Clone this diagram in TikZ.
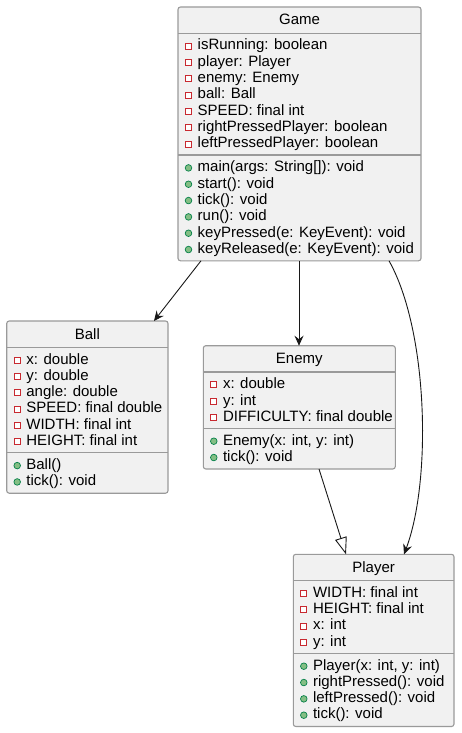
\documentclass[tikz,border=0pt]{standalone}
\usepackage{fontspec}
\setmainfont{Liberation Sans}
\usetikzlibrary{arrows.meta,fit}
\definecolor{boxfill}{HTML}{F1F1F1}
\definecolor{boxline}{HTML}{9A9A9A}
\definecolor{privred}{HTML}{C82930}
\definecolor{pubfill}{HTML}{84BE84}
\definecolor{publine}{HTML}{038048}
\definecolor{edge}{HTML}{181818}
\tikzset{
  cls/.style={draw=boxline, fill=boxfill, line width=1.1pt, rounded corners=2.5pt, inner sep=0pt, outer sep=0pt},
  sepline/.style={draw=boxline, line width=1.1pt},
  member/.style={anchor=base west, inner sep=0pt, font=\fontsize{15}{17}\selectfont},
  ctitle/.style={anchor=base, inner sep=0pt, font=\fontsize{15}{17}\selectfont},
  aicon/.style={draw=privred, fill=white, line width=1pt, minimum size=6pt, inner sep=0pt, rectangle},
  micon/.style={draw=publine, fill=pubfill, line width=0.7pt, minimum size=6.6pt, inner sep=0pt, circle},
  assoc/.style={draw=edge, line width=0.9pt, -{Stealth[length=10pt,width=9pt,inset=3.5pt]}},
  inherit/.style={draw=edge, line width=0.9pt, -{Triangle[open,length=17pt,width=12pt,fill=white]}}
}
\newcommand{\members}[5]{%
  \foreach \t [count=\i from 0] in {#5} {
    \pgfmathsetmacro\yb{#3+16.33*\i}
    \node[#4icon] (#1\i-icon) at ({#2+10.5},{\yb-3.8}) {};
    \node[member] (#1\i) at ({#2+19.5},\yb) {\t};
  }}
\newcommand{\umlclass}[8]{% name, left, top, right, bottom, title, sep1, sep2
  \node[cls, fit={(#2,#3) (#4,#5)}] (#1) {};
  \draw[sepline] (#2,#7) -- (#4,#7);
  \draw[sepline] (#2,#8) -- (#4,#8);
  \node[ctitle] (#1-title) at ({(#2+#4)/2},{#3+18}) {#6};
}
\begin{document}
\begin{tikzpicture}[x=1pt,y=-1pt]
\useasboundingbox (0,0) rectangle (461,733);

% Game
\umlclass{game}{178}{7}{421}{260.8}{Game}{33.3}{155}
\members{game-a}{178}{50}{a}{isRunning: boolean, player: Player, enemy: Enemy, ball: Ball, SPEED: final int, rightPressedPlayer: boolean, leftPressedPlayer: boolean}
\members{game-m}{178}{171.7}{m}{{main(args: String[]): void}, start(): void, tick(): void, run(): void, {keyPressed(e: KeyEvent): void}, {keyReleased(e: KeyEvent): void}}

% Ball
\umlclass{ball}{6.7}{321}{168}{493.2}{Ball}{347.3}{452.7}
\members{ball-a}{6.7}{364}{a}{x: double, y: double, angle: double, SPEED: final double, WIDTH: final int, HEIGHT: final int}
\members{ball-m}{6.7}{469.4}{m}{Ball(), tick(): void}

% Enemy
\umlclass{enemy}{203.3}{345.7}{395.3}{469}{Enemy}{372}{428.3}
\members{enemy-a}{203.3}{388.7}{a}{x: double, y: int, DIFFICULTY: final double}
\members{enemy-m}{203.3}{445}{m}{{Enemy(x: int, y: int)}, tick(): void}

% Player
\umlclass{player}{293.3}{554.3}{454}{726.5}{Player}{580.6}{653.3}
\members{player-a}{293.3}{597.3}{a}{WIDTH: final int, HEIGHT: final int, x: int, y: int}
\members{player-m}{293.3}{670}{m}{{Player(x: int, y: int)}, rightPressed(): void, leftPressed(): void, tick(): void}

% connectors
\draw[assoc] ([xshift=23pt]game.south west) -- ([xshift=-14pt]ball.north east);
\draw[assoc] ([xshift=121pt]game.south west) -- ([xshift=95.7pt]enemy.north west);
\draw[assoc] ([xshift=211pt]game.south west) .. controls (428,330) and (432,480) .. ([xshift=110.7pt]player.north west);
\draw[inherit] ([xshift=115.7pt]enemy.south west) -- ([xshift=52.7pt]player.north west);
\end{tikzpicture}
\end{document}
